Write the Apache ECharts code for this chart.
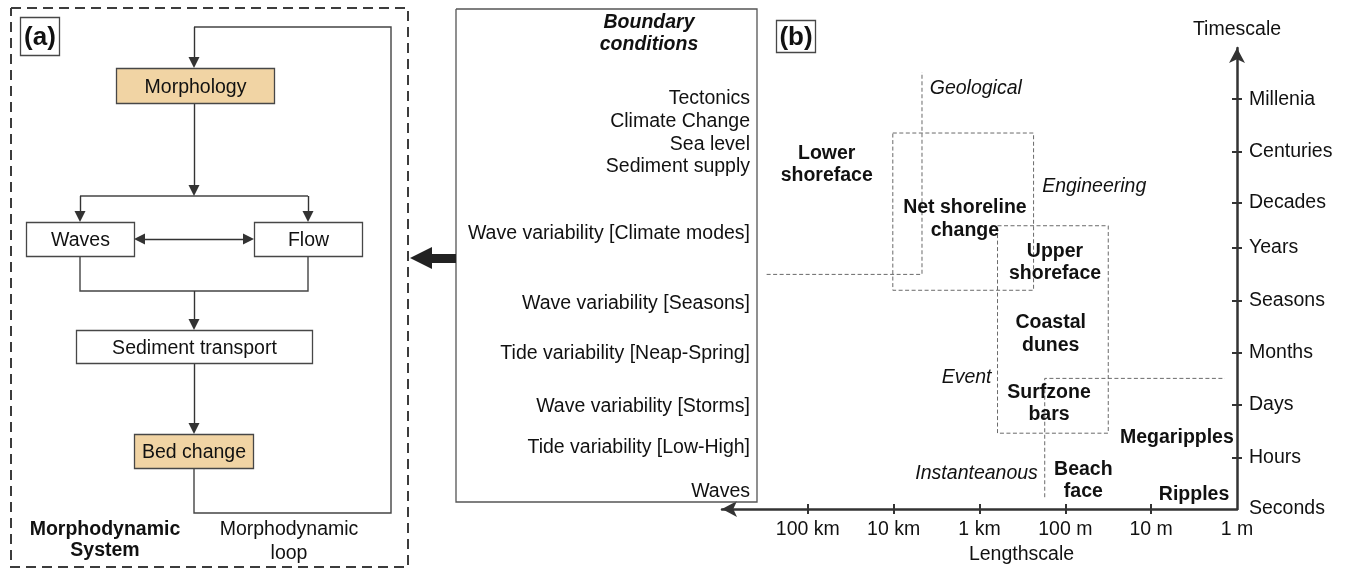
<!DOCTYPE html>
<html><head><meta charset="utf-8">
<script src="https://cdn.jsdelivr.net/npm/echarts@6/dist/echarts.min.js"></script>
<style>html,body{margin:0;padding:0;background:#fff}#c{width:1346px;height:570px}</style>
</head><body><div id="c"></div>
<script>
// ================= Panel (b): length / time scale diagram =================
const lengthTickValues = [0, 1, 2, 3, 4, 5];               // log10(metres)
const lengthTickLabels = ['1 m', '10 m', '100 m', '1 km', '10 km', '100 km'];
const timeTickValues = [0, 1.01, 2.03, 3.06, 4.07, 5.10, 5.98, 6.97, 8.0];
const timeTickLabels = ['Seconds', 'Hours', 'Days', 'Months', 'Seasons', 'Years', 'Decades', 'Centuries', 'Millenia'];

const regionNames = ['Lower\nshoreface', 'Net shoreline\nchange', 'Upper\nshoreface', 'Coastal\ndunes', 'Surfzone\nbars', 'Megaripples', 'Beach\nface', 'Ripples'];
const regionLength = [4.78, 3.17, 2.12, 2.17, 2.19, 0.70, 1.79, 0.50];
const regionTime = [6.75, 5.69, 4.84, 3.44, 2.09, 1.42, 0.58, 0.31];

const regimeLeftNames = ['Geological', 'Engineering'];
const regimeLeftLength = [3.58, 2.27];
const regimeLeftTime = [8.24, 6.33];
const regimeRightNames = ['Event', 'Instanteanous'];
const regimeRightLength = [2.86, 2.32];
const regimeRightTime = [2.59, 0.72];

// dashed boxes: [lengthA, lengthB, timeA, timeB]
const boxNetShoreline = [4.01, 2.37, 7.34, 4.27];
const boxUpperShoreface = [2.79, 1.50, 5.53, 1.48];
// dashed regime boundaries
const geologicalBoundary = [[5.48, 4.58], [3.67, 4.58], [3.67, 8.53]];
const eventBoundary = [[2.24, 0.23], [2.24, 2.55], [0.14, 2.55]];

// ================= Panel (a): morphodynamic flowchart (layout units) =================
const flowNodes = ['Morphology', 'Waves', 'Flow', 'Sediment transport', 'Bed change'];
const flowNodeX = [195, 80, 308, 194, 193.5];
const flowNodeY = [85.5, 239, 239, 346.5, 451];
const flowNodeW = [158, 108, 108, 236, 119];
const flowNodeH = [35, 34, 34, 33, 34];
const flowNodeTan = [true, false, false, false, true];
const flowPaths = [
  [[194, 468], [194, 513], [391, 513], [391, 27], [194, 27]],
  [[80, 196], [308, 196]],
  [[80, 256], [80, 291], [308, 291], [308, 256]]
];
const flowArrows = [
  [[194, 27], [194, 68]], [[194, 103], [194, 196]], [[80, 196], [80, 222]],
  [[308, 196], [308, 222]], [[194, 291], [194, 330]], [[194, 363], [194, 434]]
];
const flowDoubleArrow = [[134, 239], [254, 239]];
const panelAFrame = [11, 408, 8, 567];
const systemLabels = ['Morphodynamic\nSystem', 'Morphodynamic\nloop'];
const systemLabelX = [105, 289];
const systemLabelY = [538.5, 540];

// ================= Boundary conditions column =================
const boundaryFrame = [456, 757, 9, 502];
const boundaryTitle = 'Boundary\nconditions';
const boundaryTitlePos = [649, 32];
const boundaryConditions = ['Tectonics', 'Climate Change', 'Sea level', 'Sediment supply',
  'Wave variability [Climate modes]', 'Wave variability [Seasons]', 'Tide variability [Neap-Spring]',
  'Wave variability [Storms]', 'Tide variability [Low-High]', 'Waves'];
const boundaryRowY = [97, 120, 143, 165, 232, 302, 352, 405, 446, 490];
const boundaryRowX = 750;
const forcingArrow = [[456, 258], [421, 258]];
const panelTags = ['(a)', '(b)'];
const panelTagX = [39.5, 795.5];
const panelTagY = [36, 36];
const panelTagW = [39, 39];
const panelTagH = [38, 32];

// ---------------------------------------------------------------
const FONT = "'Liberation Sans', Arial, Helvetica, sans-serif";
const TXT = '#111';
const FS = 19.5;
const DY = 1.5;   // optical baseline correction for labels
function closedRect(b) { const [x1, x2, y1, y2] = b; return [[x1, y1], [x2, y1], [x2, y2], [x1, y2], [x1, y1]]; }
function shortenEnd(seg, d) {
  const [a, b] = seg; const dx = b[0] - a[0], dy = b[1] - a[1]; const L = Math.hypot(dx, dy);
  return [a, [b[0] - dx / L * d, b[1] - dy / L * d]];
}
function shortenBoth(seg, d) {
  const s = shortenEnd(seg, d); const r = shortenEnd([s[1], s[0]], d); return [r[1], r[0]];
}
function fmtBy(values, labels, tol) {
  return function (v) { const i = values.findIndex(t => Math.abs(t - v) < tol); return i < 0 ? '' : labels[i]; };
}

const chart = echarts.init(document.getElementById('c'));
const diag = { coordinateSystem: 'cartesian2d', xAxisIndex: 0, yAxisIndex: 0, silent: true, animation: false };
const panB = { coordinateSystem: 'cartesian2d', xAxisIndex: 1, yAxisIndex: 1, silent: true, animation: false };
const txt = (extra) => Object.assign({ show: true, color: TXT, fontFamily: FONT, fontSize: FS, offset: [0, DY] }, extra);
const hidden = { color: 'transparent', opacity: 1 };

// box renderer (custom series): value = [cx, cy, w, h]
function boxRenderer(fills, labels, textStyleFn) {
  return function (params, api) {
    const cx = api.value(0), cy = api.value(1), w = api.value(2), h = api.value(3);
    const p1 = api.coord([cx - w / 2, cy - h / 2]);
    const p2 = api.coord([cx + w / 2, cy + h / 2]);
    const x = Math.round(Math.min(p1[0], p2[0])) + 0.5, y = Math.round(Math.min(p1[1], p2[1])) + 0.5;
    const W = Math.round(Math.abs(p2[0] - p1[0])), H = Math.round(Math.abs(p2[1] - p1[1]));
    const i = params.dataIndex;
    return {
      type: 'rect', shape: { x: x, y: y, width: W, height: H },
      style: { fill: fills[i], stroke: '#474747', lineWidth: 1.3 },
      textContent: { style: Object.assign({ text: labels[i], fill: TXT, fontFamily: FONT, fontSize: FS }, textStyleFn ? textStyleFn(i) : {}) },
      textConfig: { position: 'inside', offset: [0, DY] }
    };
  };
}

const series = [
  // panel (a) dashed frame
  Object.assign({ type: 'lines', polyline: true, lineStyle: { color: '#3c3c3c', width: 2, type: [10, 6], opacity: 1 },
    data: [{ coords: closedRect(panelAFrame) }] }, diag),
  // connectors
  Object.assign({ type: 'lines', polyline: true, lineStyle: { color: '#444', width: 1.4, opacity: 1 },
    data: flowPaths.map(p => ({ coords: p })) }, diag),
  Object.assign({ type: 'lines', symbol: ['none', 'triangle'], symbolSize: 11,
    lineStyle: { color: '#333', width: 1.4, opacity: 1 },
    data: flowArrows.map(s => ({ coords: shortenEnd(s, 5.5) })) }, diag),
  Object.assign({ type: 'lines', symbol: ['triangle', 'triangle'], symbolSize: 11,
    lineStyle: { color: '#333', width: 1.4, opacity: 1 },
    data: [{ coords: shortenBoth(flowDoubleArrow, 5.5) }] }, diag),
  // flow boxes
  Object.assign({ type: 'custom', z: 5,
    data: flowNodes.map((n, i) => [flowNodeX[i], flowNodeY[i], flowNodeW[i], flowNodeH[i]]),
    renderItem: boxRenderer(flowNodeTan.map(t => t ? '#f1d4a4' : '#ffffff'), flowNodes) }, diag),
  // panel tags
  Object.assign({ type: 'custom', z: 5,
    data: panelTags.map((n, i) => [panelTagX[i], panelTagY[i], panelTagW[i], panelTagH[i]]),
    renderItem: boxRenderer(['#fff', '#fff'], panelTags, () => ({ fontSize: 26, fontWeight: 'bold' })) }, diag),
  // system labels
  Object.assign({ type: 'scatter', symbolSize: 0, itemStyle: hidden,
    data: systemLabels.map((n, i) => ({ name: n, value: [systemLabelX[i], systemLabelY[i]],
      label: i === 0 ? { fontWeight: 'bold', lineHeight: 21 } : { fontWeight: 'normal', lineHeight: 24 } })),
    label: txt({ position: 'inside', align: 'center', formatter: p => p.name }) }, diag),
  // boundary conditions frame
  Object.assign({ type: 'lines', polyline: true, lineStyle: { color: '#555', width: 1.3, opacity: 1 },
    data: [{ coords: closedRect(boundaryFrame) }] }, diag),
  Object.assign({ type: 'scatter', symbolSize: 0, itemStyle: hidden,
    data: [{ name: boundaryTitle, value: boundaryTitlePos }],
    label: txt({ position: 'inside', fontWeight: 'bold', fontStyle: 'italic', lineHeight: 22, formatter: p => p.name }) }, diag),
  Object.assign({ type: 'scatter', symbolSize: 0, itemStyle: hidden,
    data: boundaryConditions.map((n, i) => ({ name: n, value: [boundaryRowX, boundaryRowY[i]] })),
    label: txt({ position: 'left', distance: 0, formatter: p => p.name }) }, diag),
  // forcing arrow
  Object.assign({ type: 'lines', symbol: ['none', 'triangle'], symbolSize: 22,
    lineStyle: { color: '#222', width: 9, opacity: 1 },
    data: [{ coords: forcingArrow }] }, diag),

  // ---- panel (b)
  Object.assign({ type: 'lines', polyline: true, lineStyle: { color: '#6a6a6a', width: 1, type: [4, 2.5], opacity: 1 },
    data: [closedRect(boxNetShoreline), closedRect(boxUpperShoreface), geologicalBoundary, eventBoundary].map(c => ({ coords: c })) }, panB),
  Object.assign({ type: 'scatter', symbolSize: 0, itemStyle: hidden,
    data: regionNames.map((n, i) => ({ name: n, value: [regionLength[i], regionTime[i]] })),
    label: txt({ position: 'inside', fontWeight: 'bold', lineHeight: 22.5, formatter: p => p.name }) }, panB),
  Object.assign({ type: 'scatter', symbolSize: 0, itemStyle: hidden,
    data: regimeLeftNames.map((n, i) => ({ name: n, value: [regimeLeftLength[i], regimeLeftTime[i]] })),
    label: txt({ position: 'right', distance: 0, fontStyle: 'italic', formatter: p => p.name }) }, panB),
  Object.assign({ type: 'scatter', symbolSize: 0, itemStyle: hidden,
    data: regimeRightNames.map((n, i) => ({ name: n, value: [regimeRightLength[i], regimeRightTime[i]] })),
    label: txt({ position: 'left', distance: 0, fontStyle: 'italic', formatter: p => p.name }) }, panB)
];

const axisCol = '#333';
const X_MAX = 6.0, Y_MAX = 9.0;
function tickAxis(dir, inside, extra) {
  return Object.assign({ type: 'value', gridIndex: 1, min: 0, max: dir === 'x' ? X_MAX : Y_MAX, interval: 1,
    axisLine: { show: false },
    axisTick: { show: true, inside: inside, length: 5,
      customValues: (dir === 'x' ? lengthTickValues : timeTickValues).slice(1), lineStyle: { color: axisCol, width: 2 } },
    axisLabel: { show: false }, splitLine: { show: false } }, extra);
}
const option = {
  animation: false,
  backgroundColor: '#fff',
  textStyle: { fontFamily: FONT },
  grid: [
    { left: 0, top: 0, right: 0, bottom: 0, show: false },
    { left: 722, right: 109, top: 48, bottom: 60, show: false }
  ],
  xAxis: [
    { type: 'value', gridIndex: 0, min: 0, max: 1346, show: false },
    { type: 'value', gridIndex: 1, min: 0, max: X_MAX, interval: 1, inverse: true, position: 'bottom',
      axisLine: { show: true, symbol: ['arrow', 'none'], symbolSize: [12, 15], lineStyle: { color: axisCol, width: 2.5 } },
      axisTick: { show: false },
      axisLabel: { show: true, customValues: lengthTickValues, formatter: fmtBy(lengthTickValues, lengthTickLabels, 0.05),
        color: TXT, fontSize: FS, fontFamily: FONT, margin: 11 },
      splitLine: { show: false },
      name: 'Lengthscale', nameLocation: 'middle', nameGap: 36,
      nameTextStyle: { color: TXT, fontSize: FS, fontFamily: FONT, padding: [0, 0, 0, 84] } },
    tickAxis('x', true, { inverse: true, position: 'bottom' }),
    tickAxis('x', false, { inverse: true, position: 'bottom' })
  ],
  yAxis: [
    { type: 'value', gridIndex: 0, min: 0, max: 570, inverse: true, show: false },
    { type: 'value', gridIndex: 1, min: 0, max: Y_MAX, interval: 1, position: 'right',
      axisLine: { show: true, symbol: ['none', 'arrow'], symbolSize: [12, 15], lineStyle: { color: axisCol, width: 2.5 } },
      axisTick: { show: false },
      axisLabel: { show: true, customValues: timeTickValues, formatter: fmtBy(timeTickValues, timeTickLabels, 0.15),
        color: TXT, fontSize: FS, fontFamily: FONT, margin: 12 },
      splitLine: { show: false },
      name: 'Timescale', nameLocation: 'end', nameGap: 8,
      nameTextStyle: { color: TXT, fontSize: FS, fontFamily: FONT } },
    tickAxis('y', true, { position: 'right' }),
    tickAxis('y', false, { position: 'right' })
  ],
  series: series
};
chart.setOption(option);
</script></body></html>
